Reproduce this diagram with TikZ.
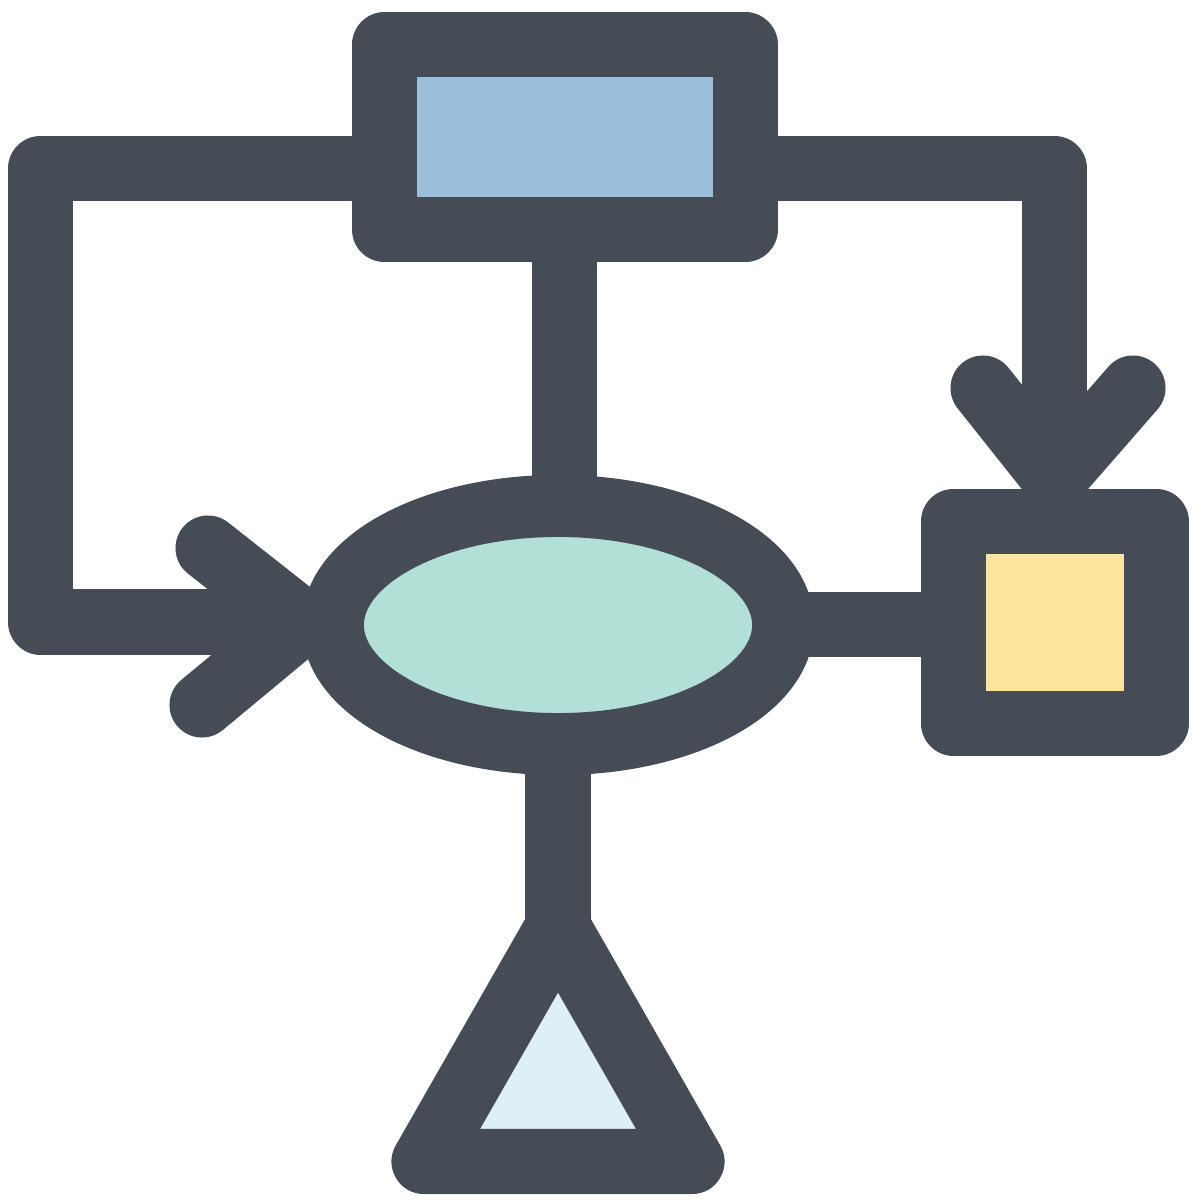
\documentclass[tikz,border=0pt]{standalone}
\usetikzlibrary{shapes.geometric}
\definecolor{ink}{HTML}{464C55}
\definecolor{cblue}{HTML}{9BBFDA}
\definecolor{cgreen}{HTML}{B2E0D6}
\definecolor{cyellow}{HTML}{FCE49A}
\definecolor{clight}{HTML}{DFEFF7}
\tikzset{
  stroke/.style={draw=ink, line width=0.65cm, line join=round, line cap=round},
  flat/.style={draw=ink, line width=0.65cm, line join=round, line cap=butt},
  boxnode/.style={stroke, rectangle, inner sep=0pt, outer sep=0pt},
}
\begin{document}
\begin{tikzpicture}[x=0.01cm, y=-0.01cm]
\useasboundingbox (0,0) rectangle (1200,1200);
% coordinates
\coordinate (tl) at (40.5,168.5);
\coordinate (bl) at (40.5,622);
\coordinate (ltip) at (302,622);
\coordinate (lca) at (208,548);
\coordinate (lcb) at (202,705);
\coordinate (tr) at (1054.5,168.5);
\coordinate (rtip) at (1054.5,478);
\coordinate (rca) at (983,388);
\coordinate (rcb) at (1133,388);
\coordinate (tapex) at (558,927);
\coordinate (tbl) at (424,1161.5);
\coordinate (tbr) at (692,1161.5);
% connectors
\draw[flat] (565,168.5) -- (tl) -- (bl) -- (ltip);
\draw[stroke] (lca) -- (ltip) -- (lcb);
\draw[flat] (565,168.5) -- (tr) -- (1054.5,480);
\draw[stroke] (rca) -- (rtip) -- (rcb);
\draw[flat] (564.5,230) -- (564.5,500);
\draw[flat] (780,624.5) -- (960,624.5);
\draw[flat] (558,740) -- (558,940);
% shapes
\node[boxnode, fill=cblue, minimum width=3.605cm, minimum height=1.845cm] (top) at (564.75,137.25) {};
\node[stroke, ellipse, fill=cgreen, inner sep=0pt, outer sep=0pt, line width=0.62cm, minimum width=4.5cm, minimum height=2.38cm] (ell) at (558,625) {};
\node[boxnode, fill=cyellow, minimum width=2.025cm, minimum height=2.015cm] (sq) at (1054.75,622.25) {};
\draw[stroke, fill=clight] (tapex) -- (tbr) -- (tbl) -- cycle;
\end{tikzpicture}
\end{document}
